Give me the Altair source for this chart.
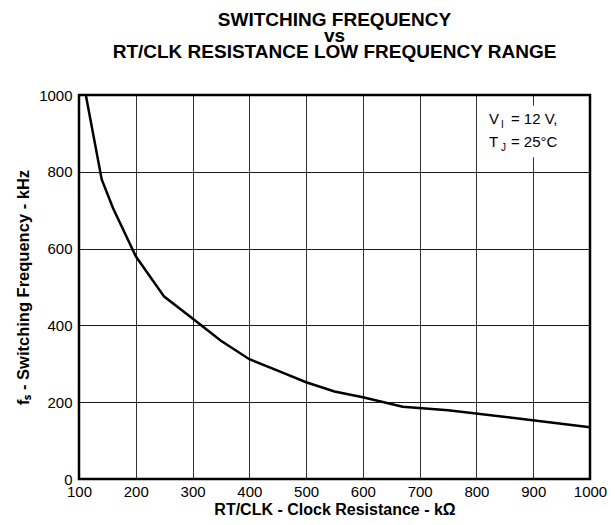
import altair as alt
import pandas as pd

# Curve (RT/CLK resistance in kOhm -> switching frequency in kHz)
resistance_kohm = [112, 140, 160, 200, 250, 300, 350, 400, 450, 500, 550, 600, 670, 750, 870, 1000]
frequency_khz = [1000, 780, 705, 580, 475, 418, 360, 312, 282, 252, 228, 213, 188, 179, 158, 135]

x_ticks = [100, 200, 300, 400, 500, 600, 700, 800, 900, 1000]
y_ticks = [0, 200, 400, 600, 800, 1000]

title_lines = ["SWITCHING FREQUENCY", "vs", "RT/CLK RESISTANCE LOW FREQUENCY RANGE"]
x_title = "RT/CLK - Clock Resistance - kΩ"
y_title = "fₛ - Switching Frequency - kHz"

# annotation (condition box)
note_main = ["V", "T"]
note_sub = ["I", "J"]
note_rest = ["= 12 V,", "= 25°C"]
note_r = [822, 822]
note_f = [924, 865]
box_r = [815]
box_r2 = [950]
box_f = [972]
box_f2 = [838]

FONT = "Liberation Sans"

df = pd.DataFrame({"R": resistance_kohm, "F": frequency_khz})
notes = pd.DataFrame({"R": note_r, "F": note_f, "main": note_main, "sub": note_sub, "rest": note_rest})
box = pd.DataFrame({"R": box_r, "R2": box_r2, "F": box_f, "F2": box_f2})

xscale = alt.Scale(domain=[100, 1000], nice=False, zero=False)
yscale = alt.Scale(domain=[0, 1000], nice=False)

xaxis = alt.Axis(values=x_ticks, title=x_title, grid=True, ticks=False, domain=False, format="d",
                 labelFontSize=15, labelFont=FONT, labelColor="black", labelPadding=5,
                 titleFont=FONT, titleFontSize=16, titleFontWeight="bold", titleColor="black",
                 titlePadding=2, gridColor="black", gridWidth=1, gridOpacity=0.8,
                 labelFlush=False)
yaxis = alt.Axis(values=y_ticks, title=y_title, grid=True, ticks=False, domain=False, format="d",
                 labelFontSize=15, labelFont=FONT, labelColor="black", labelPadding=7,
                 titleFont=FONT, titleFontSize=16.5, titleFontWeight="bold", titleColor="black",
                 titlePadding=7, gridColor="black", gridWidth=1, gridOpacity=0.9,
                 labelFlush=False)

curve = alt.Chart(df).mark_line(color="black", strokeWidth=2.5).encode(
    x=alt.X("R:Q", scale=xscale, axis=xaxis),
    y=alt.Y("F:Q", scale=yscale, axis=yaxis),
)

bg = alt.Chart(box).mark_rect(color="white").encode(
    x=alt.X("R:Q", scale=xscale), x2="R2:Q",
    y=alt.Y("F:Q", scale=yscale), y2="F2:Q",
)

t_main = alt.Chart(notes).mark_text(align="left", baseline="alphabetic", fontSize=15, font=FONT,
                                    color="black").encode(
    x=alt.X("R:Q", scale=xscale), y=alt.Y("F:Q", scale=yscale), text="main:N")
t_sub = alt.Chart(notes).mark_text(align="left", baseline="alphabetic", fontSize=10, font=FONT,
                                   color="black", dx=12, dy=4).encode(
    x=alt.X("R:Q", scale=xscale), y=alt.Y("F:Q", scale=yscale), text="sub:N")
t_rest = alt.Chart(notes).mark_text(align="left", baseline="alphabetic", fontSize=15, font=FONT,
                                    color="black", dx=22).encode(
    x=alt.X("R:Q", scale=xscale), y=alt.Y("F:Q", scale=yscale), text="rest:N")

chart = alt.layer(bg, curve, t_main, t_sub, t_rest).properties(
    width=511, height=384,
    title=alt.Title(title_lines, font=FONT, fontSize=19, fontWeight="bold", color="black",
                    lineHeight=16, anchor="middle", offset=26),
    autosize=alt.AutoSizeParams(type="none"),
    padding={"left": 71, "top": 87, "right": 17, "bottom": 38},
).configure_view(stroke="black", strokeWidth=2.5)

chart.save("out.html", embed_options={"renderer": "svg", "actions": False})
